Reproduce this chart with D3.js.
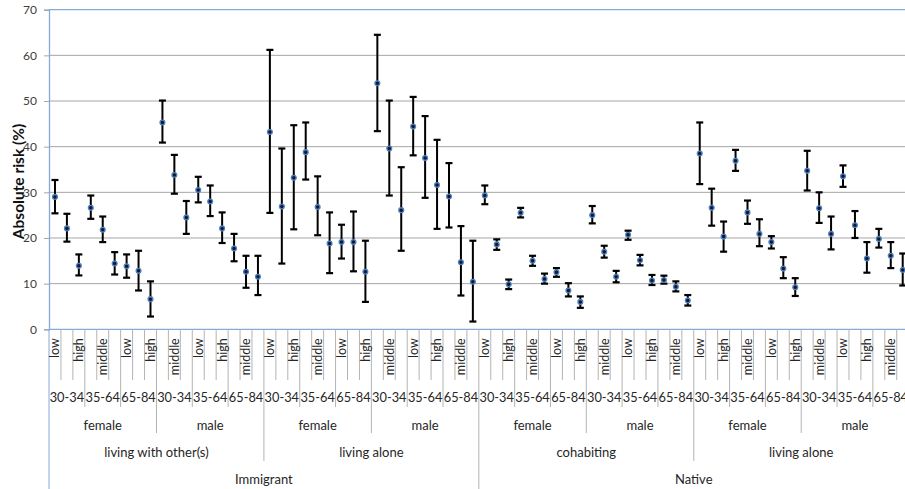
<!DOCTYPE html>
<html>
<head>
<meta charset="utf-8">
<script src="https://cdn.jsdelivr.net/npm/d3@7"></script>
<style>
  html, body { margin: 0; padding: 0; background: #fff; }
  svg { display: block; font-family: Lato, "Noto Sans", sans-serif; }
</style>
</head>
<body>
<svg id="chart" width="905" height="489"></svg>
<script>
// ---- Category hierarchy ----
const origins = ["Immigrant", "Native"];
const livings = [["living with other(s)", "living alone"], ["cohabiting", "living alone"]];
const sexes = ["female", "male"];
const ages = ["30-34", "35-64", "65-84"];
const edus = ["low", "middle", "high"];

// ---- Values (absolute risk, %) ----
const estimate = [
  29.0, 22.1, 13.9, 26.6, 21.8, 14.4, 13.8, 12.8, 6.6,
  45.3, 33.8, 24.5, 30.5, 28.0, 22.1, 17.7, 12.6, 11.5,
  43.2, 26.9, 33.2, 38.8, 26.8, 18.8, 19.1, 19.1, 12.6,
  53.9, 39.6, 26.1, 44.4, 37.5, 31.6, 29.1, 14.7, 10.4,
  29.3, 18.6, 9.85, 25.5, 15.0, 11.0, 12.5, 8.5, 6.0,
  25.0, 17.0, 11.5, 20.7, 15.1, 10.7, 10.8, 9.3, 6.3,
  38.5, 26.6, 20.3, 36.9, 25.6, 20.9, 19.1, 13.3, 9.2,
  34.7, 26.5, 20.9, 33.5, 22.8, 15.5, 19.8, 16.1, 13.0
];
const lower = [
  25.4, 19.2, 11.8, 24.2, 19.1, 12.0, 11.3, 8.5, 2.8,
  40.9, 29.7, 20.9, 27.8, 24.8, 18.9, 14.9, 9.1, 7.5,
  25.5, 14.4, 21.9, 32.8, 20.6, 12.3, 15.5, 12.7, 6.0,
  43.4, 29.3, 17.2, 38.1, 28.8, 22.0, 22.3, 7.4, 1.7,
  27.4, 17.4, 8.8, 24.5, 13.9, 10.0, 11.5, 7.2, 4.7,
  23.2, 15.7, 10.3, 19.6, 14.0, 9.7, 10.0, 8.3, 5.2,
  31.8, 22.7, 17.0, 34.7, 23.1, 18.2, 17.7, 11.2, 7.3,
  30.4, 23.3, 17.5, 31.2, 20.0, 12.4, 17.9, 13.4, 9.6
];
const upper = [
  32.7, 25.3, 16.4, 29.3, 24.7, 16.9, 16.4, 17.2, 10.5,
  50.1, 38.2, 28.1, 33.4, 31.5, 25.6, 20.9, 16.1, 16.1,
  61.2, 39.6, 44.7, 45.3, 33.5, 25.6, 22.9, 25.8, 19.4,
  64.5, 50.1, 35.5, 50.9, 46.7, 41.5, 36.4, 22.6, 19.4,
  31.5, 19.7, 10.9, 26.6, 16.1, 12.2, 13.4, 10.1, 7.2,
  27.0, 18.3, 12.8, 21.6, 16.3, 11.9, 11.75, 10.5, 7.5,
  45.3, 30.8, 23.6, 39.3, 28.2, 24.1, 20.4, 15.8, 11.2,
  39.1, 30.0, 24.7, 35.9, 25.9, 19.1, 22.0, 19.1, 16.6
];
const yTicks = [0, 10, 20, 30, 40, 50, 60, 70];
const yTitle = "Absolute risk (%)";

(function () {
// ---- Build flat category rows ----
const rows = [];
origins.forEach((o, oi) => livings[oi].forEach((l, li) => sexes.forEach((s, si) =>
  ages.forEach((a, ai) => edus.forEach((e, ei) => {
    const i = rows.length;
    rows.push({ i, origin: o, oi, living: l, li, sex: s, si, age: a, ai, edu: e, ei,
      est: estimate[i], lo: lower[i], hi: upper[i] });
  })))));

const svg = d3.select("#chart");
const pLeft = 49, pTop = 9.7, pBottom = 329.3;
const nCat = rows.length;
const catW = 11.94;
const x = d3.scaleBand().domain(d3.range(nCat)).range([pLeft, pLeft + catW * nCat]).padding(0);
const y = d3.scaleLinear().domain([0, 70]).range([pBottom, pTop]);
const pRight = pLeft + catW * nCat;

const axisBlue = "#86aad8";
const gridGray = "#a6a6a6";
const sepGray = "#b4b4b4";
const textCol = "#262626";

// gridlines
svg.append("g").selectAll("line").data(yTicks.filter(t => t > 0 && t < 70)).join("line")
  .attr("x1", pLeft).attr("x2", pRight).attr("y1", d => y(d)).attr("y2", d => y(d))
  .attr("stroke", gridGray).attr("stroke-width", 1);

// plot border (top)
svg.append("line").attr("x1", pLeft).attr("x2", pRight).attr("y1", y(70)).attr("y2", y(70))
  .attr("stroke", axisBlue).attr("stroke-width", 1.3);

// y axis
const yAxis = svg.append("g").attr("transform", `translate(${pLeft},0)`)
  .call(d3.axisLeft(y).tickValues(yTicks).tickSize(5).tickPadding(7));
yAxis.select(".domain").attr("stroke", axisBlue).attr("stroke-width", 1.3);
yAxis.selectAll(".tick line").attr("stroke", gridGray);
yAxis.selectAll(".tick text").attr("fill", "#404040").style("font-size", "12px").style("font-family", "Lato, sans-serif");

svg.append("text")
  .attr("transform", `translate(24,${(pTop + pBottom) / 2 + 12}) rotate(-90)`)
  .attr("text-anchor", "middle")
  .style("font-size", "15.5px").style("font-weight", "bold").attr("fill", "#111")
  .text(yTitle);

// x axis baseline
svg.append("line").attr("x1", pLeft).attr("x2", pRight).attr("y1", pBottom).attr("y2", pBottom)
  .attr("stroke", axisBlue).attr("stroke-width", 1.3);

// separators: depth of each boundary
const levelBottom = [380, 407, 433, 461, 489];
const bounds = d3.range(nCat + 1).map(b => {
  let depth = 0;
  if (b === 0 || b === nCat) depth = 4;
  else {
    const p = rows[b - 1], n = rows[b];
    if (p.oi !== n.oi) depth = 4;
    else if (p.li !== n.li) depth = 3;
    else if (p.si !== n.si) depth = 2;
    else if (p.ai !== n.ai) depth = 1;
  }
  return { b, depth };
});
svg.append("g").selectAll("line").data(bounds).join("line")
  .attr("x1", d => pLeft + d.b * catW).attr("x2", d => pLeft + d.b * catW)
  .attr("y1", pBottom).attr("y2", d => levelBottom[d.depth])
  .attr("stroke", d => d.b === 0 ? axisBlue : sepGray).attr("stroke-width", 1);

// level 1 labels (education, every second category)
const xAxis = svg.append("g").attr("transform", `translate(0,${pBottom})`)
  .call(d3.axisBottom(x).tickValues(d3.range(0, nCat, 2)).tickSize(0)
    .tickFormat(i => rows[i].edu));
xAxis.select(".domain").remove();
xAxis.selectAll(".tick text")
  .attr("transform", "rotate(-90)")
  .attr("x", -9).attr("y", 0).attr("dy", "0.35em")
  .attr("text-anchor", "end")
  .attr("fill", textCol).style("font-size", "12.5px").style("font-family", "Lato, sans-serif");

// grouped labels
function groupSpans(keyFn) {
  const spans = [];
  rows.forEach(r => {
    const k = keyFn(r);
    const last = spans[spans.length - 1];
    if (last && last.key === k) last.end = r.i;
    else spans.push({ key: k, start: r.i, end: r.i, row: r });
  });
  return spans;
}
const levels = [
  { key: r => `${r.oi}-${r.li}-${r.si}-${r.ai}`, label: r => r.age, yb: 402, fs: "12.8px" },
  { key: r => `${r.oi}-${r.li}-${r.si}`, label: r => r.sex, yb: 430, fs: "13px" },
  { key: r => `${r.oi}-${r.li}`, label: r => r.living, yb: 457, fs: "13px" },
  { key: r => `${r.oi}`, label: r => r.origin, yb: 484, fs: "13px" }
];
levels.forEach(lv => {
  svg.append("g").selectAll("text").data(groupSpans(lv.key)).join("text")
    .attr("x", d => (x(d.start) + x(d.end) + catW) / 2)
    .attr("y", lv.yb)
    .attr("text-anchor", "middle")
    .attr("fill", textCol).style("font-size", lv.fs)
    .text(d => lv.label(d.row));
});

// error bars
const eb = svg.append("g");
const cx = d => x(d.i) + catW / 2;
eb.selectAll("line.v").data(rows).join("line").attr("class", "v")
  .attr("x1", cx).attr("x2", cx).attr("y1", d => y(d.lo)).attr("y2", d => y(d.hi))
  .attr("stroke", "#000").attr("stroke-width", 2);
["lo", "hi"].forEach(k => {
  eb.selectAll("line." + k).data(rows).join("line").attr("class", k)
    .attr("x1", d => cx(d) - 3.5).attr("x2", d => cx(d) + 3.5)
    .attr("y1", d => y(d[k])).attr("y2", d => y(d[k]))
    .attr("stroke", "#000").attr("stroke-width", 2.2);
});

// markers
svg.append("g").selectAll("circle").data(rows).join("circle")
  .attr("cx", cx).attr("cy", d => y(d.est)).attr("r", 2.4)
  .attr("fill", "#0d1a3a").attr("stroke", "#4f81bd").attr("stroke-width", 1.3);
})();
</script>
</body>
</html>
